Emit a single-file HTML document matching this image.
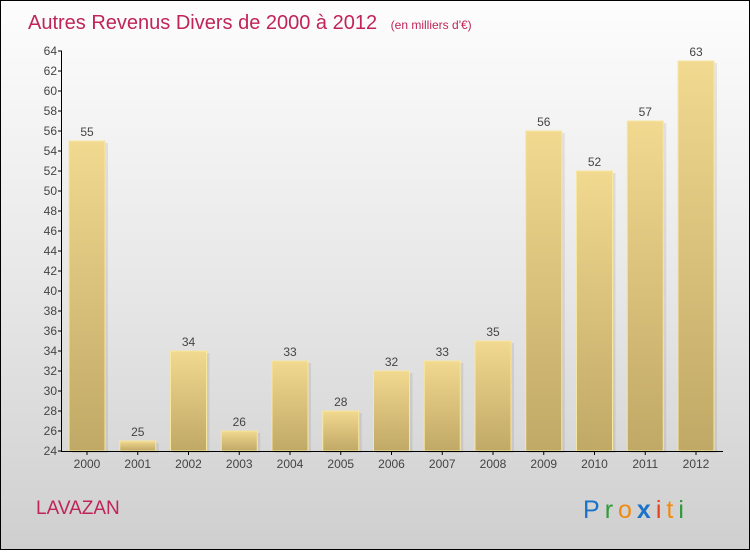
<!DOCTYPE html>
<html><head><meta charset="utf-8"><style>
body{margin:0;width:750px;height:550px;overflow:hidden}
#c{position:absolute;left:0;top:0;width:748px;height:548px;border:1px solid #000;background:linear-gradient(#fdfdfd,#e8e8e8 50%,#cfcfcf)}
text{font-family:"Liberation Sans",sans-serif}
</style></head><body>
<div id="c">
<svg width="750" height="550" id="svg">
<defs>
<linearGradient id="bg" x1="0" y1="0" x2="0" y2="1"><stop offset="0" stop-color="#f2d990"/><stop offset="1" stop-color="#c0a866"/></linearGradient>
</defs>
<text x="27" y="28" font-size="20" fill="#c0245a">Autres Revenus Divers de 2000 à 2012 <tspan font-size="12" dx="8">(en milliers d'€)</tspan></text>
<text x="35" y="513" font-size="19" fill="#c0245a">LAVAZAN</text>
<text x="582" y="517" font-size="25" letter-spacing="5"><tspan fill="#1a73c8">P</tspan><tspan fill="#2e9a3a">r</tspan><tspan fill="#f08a10">o</tspan><tspan fill="#1a73c8" font-weight="bold">x</tspan><tspan fill="#e8401a">i</tspan><tspan fill="#f08a10">t</tspan><tspan fill="#2e9a3a">i</tspan></text>
<g id="plot"></g>
</svg></div>
<script>
const categories=["2000","2001","2002","2003","2004","2005","2006","2007","2008","2009","2010","2011","2012"];
const values=[55,25,34,26,33,28,32,33,35,56,52,57,63];
const yTicks=[24,26,28,30,32,34,36,38,40,42,44,46,48,50,52,54,56,58,60,62,64];
const y=v=>450-(v-24)*10;
const x=i=>86+i*50.75;
const ns="http://www.w3.org/2000/svg";
const g=document.getElementById('plot');
function mk(t,a,txt){const e=document.createElementNS(ns,t);for(const k in a)e.setAttribute(k,a[k]);if(txt!==undefined)e.textContent=txt;g.appendChild(e);return e;}
categories.forEach((c,i)=>{
 const b=mk('rect',{x:x(i)-18+3,y:y(values[i])+2,width:36,height:450-y(values[i]),fill:'#000',opacity:0.08});
 
 
 const r=mk('rect',{x:x(i)-18,y:y(values[i]),width:36,height:450-y(values[i]),fill:'url(#bg)',stroke:'#f7e7a0','stroke-width':1});
 
 
 const l=mk('text',{x:x(i),y:y(values[i])-5,'text-anchor':'middle','font-size':12,fill:'#444'},values[i]);
 
 
 const t=mk('line',{x1:x(i),x2:x(i),y1:450,y2:454,stroke:'#000'});
 
 
 const xl=mk('text',{x:x(i),y:467,'text-anchor':'middle','font-size':12,fill:'#444'},c);
 
 
});
yTicks.forEach(v=>{
 const t=mk('line',{x1:57,x2:61,y1:y(v),y2:y(v),stroke:'#000'});
 
 
 const l=mk('text',{x:56,y:y(v)+4,'text-anchor':'end','font-size':12,fill:'#444'},v);
 
 
});
const ya=mk('line',{x1:60.5,x2:60.5,y1:50,y2:450.5,stroke:'#000'});


const xa=mk('line',{x1:60,x2:722,y1:450.5,y2:450.5,stroke:'#000'});


</script>
</body></html>
